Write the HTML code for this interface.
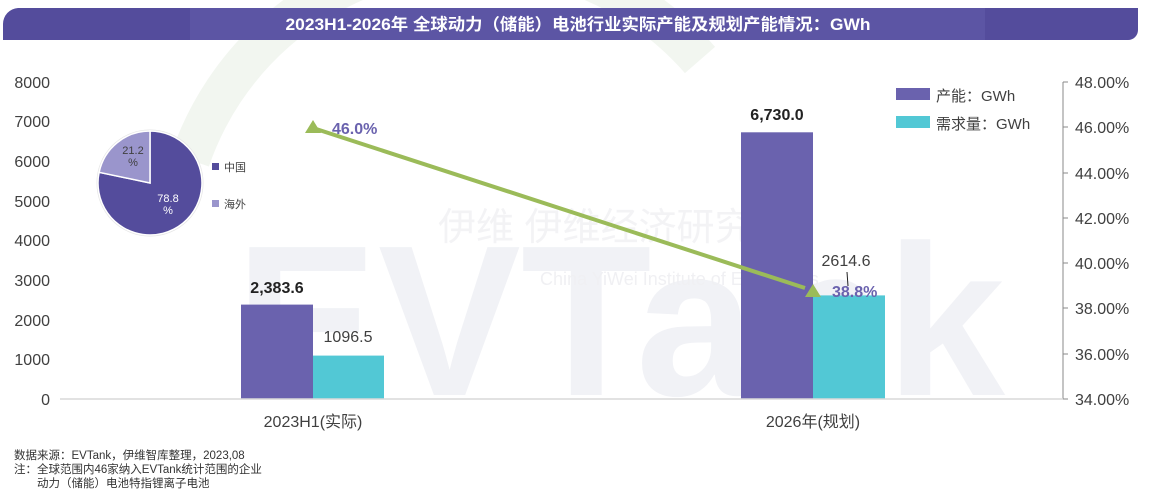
<!DOCTYPE html>
<html><head><meta charset="utf-8"><style>
body{margin:0;background:#fff;}
svg text{font-family:"Liberation Sans","Noto Sans CJK SC",sans-serif;}
</style></head><body>
<svg width="1156" height="498" xmlns="http://www.w3.org/2000/svg">
<rect width="1156" height="498" fill="#fff"/>
<path d="M190 160 A300 300 0 0 1 700 60" stroke="#f2f6f0" stroke-width="40" fill="none"/>
<text x="235" y="395" font-size="215" fill="#f1f2f6" font-weight="bold" textLength="770" lengthAdjust="spacingAndGlyphs">EVTank</text>
<text x="438" y="240" font-size="38" fill="#eeeef2" font-family="Noto Serif CJK SC,serif" opacity="0.7">伊维 伊维经济研究院</text>
<text x="540" y="285" font-size="18" fill="#f0f0f3" font-family="Liberation Serif,serif">China YiWei Institute of Economics</text>
<path d="M18 8 H1138 V30 A10 10 0 0 1 1128 40 H3 V24 A16 16 0 0 1 18 8 Z" fill="#544c9c"/>
<rect x="190" y="8" width="795" height="32" fill="#5e57a6" opacity="0.8"/>
<text x="578" y="30" font-size="16.5" font-weight="bold" fill="#fff" text-anchor="middle" textLength="585" lengthAdjust="spacingAndGlyphs">2023H1-2026年 全球动力（储能）电池行业实际产能及规划产能情况：GWh</text>
<g font-size="16" fill="#404040" text-anchor="end">
<text x="50" y="405">0</text><text x="50" y="365">1000</text><text x="50" y="326">2000</text><text x="50" y="286">3000</text><text x="50" y="246">4000</text><text x="50" y="207">5000</text><text x="50" y="167">6000</text><text x="50" y="127">7000</text><text x="50" y="88">8000</text>
</g>
<line x1="1063" y1="82" x2="1063" y2="399" stroke="#888" stroke-width="1"/>
<g stroke="#888">
<line x1="1063" y1="82" x2="1068" y2="82"/><line x1="1063" y1="127" x2="1068" y2="127"/><line x1="1063" y1="173" x2="1068" y2="173"/><line x1="1063" y1="218" x2="1068" y2="218"/><line x1="1063" y1="263" x2="1068" y2="263"/><line x1="1063" y1="308" x2="1068" y2="308"/><line x1="1063" y1="354" x2="1068" y2="354"/><line x1="1063" y1="399" x2="1068" y2="399"/>
</g>
<g font-size="16" fill="#404040">
<text x="1075" y="88">48.00%</text><text x="1075" y="133">46.00%</text><text x="1075" y="179">44.00%</text><text x="1075" y="224">42.00%</text><text x="1075" y="269">40.00%</text><text x="1075" y="314">38.00%</text><text x="1075" y="360">36.00%</text><text x="1075" y="405">34.00%</text>
</g>
<rect x="241" y="304.6" width="72" height="94.4" fill="#6a62ae"/>
<rect x="313" y="355.6" width="71" height="43.4" fill="#52c8d5"/>
<rect x="741" y="132.3" width="72" height="266.7" fill="#6a62ae"/>
<rect x="813" y="295.4" width="72" height="103.6" fill="#52c8d5"/>
<line x1="60" y1="399" x2="1063" y2="399" stroke="#d9d9d9" stroke-width="1.5"/>
<text x="277" y="293" font-size="16" font-weight="bold" fill="#222" text-anchor="middle">2,383.6</text>
<text x="348" y="342" font-size="16" fill="#404040" text-anchor="middle">1096.5</text>
<text x="777" y="120" font-size="16" font-weight="bold" fill="#222" text-anchor="middle">6,730.0</text>
<text x="846" y="266" font-size="16" fill="#404040" text-anchor="middle">2614.6</text>
<line x1="847" y1="272" x2="848" y2="286" stroke="#222" stroke-width="1"/>
<line x1="313" y1="128" x2="805" y2="288" stroke="#9bbb59" stroke-width="4"/>
<polygon points="313,120 305,133 321,133" fill="#9bbb59"/>
<polygon points="813,284 805,297 821,297" fill="#9bbb59"/>
<text x="332" y="134" font-size="16" font-weight="bold" fill="#6a62ae">46.0%</text>
<text x="832" y="297" font-size="16" font-weight="bold" fill="#6a62ae">38.8%</text>
<text x="313" y="427" font-size="16" fill="#404040" text-anchor="middle">2023H1(实际)</text>
<text x="813" y="427" font-size="16" fill="#404040" text-anchor="middle">2026年(规划)</text>
<rect x="896" y="88" width="34" height="12" fill="#6a62ae"/>
<text x="936" y="101" font-size="15" fill="#404040">产能：GWh</text>
<rect x="896" y="116" width="34" height="12" fill="#52c8d5"/>
<text x="936" y="129" font-size="15" fill="#404040">需求量：GWh</text>
<g transform="translate(150,183)">
<circle r="53" fill="#fff" stroke="#e6e6e6"/>
<path d="M0 0 L0 -52 A52 52 0 1 1 -50.9 -10.7 Z" fill="#544c9c" stroke="#fff" stroke-width="1.5"/>
<path d="M0 0 L-50.9 -10.7 A52 52 0 0 1 0 -52 Z" fill="#9a95cc" stroke="#fff" stroke-width="1.5"/>
<text x="-17" y="-29" font-size="11" fill="#404040" text-anchor="middle">21.2</text>
<text x="-17" y="-17" font-size="11" fill="#404040" text-anchor="middle">%</text>
<text x="18" y="19" font-size="11" fill="#fff" text-anchor="middle">78.8</text>
<text x="18" y="31" font-size="11" fill="#fff" text-anchor="middle">%</text>
</g>
<rect x="212" y="163" width="7" height="7" fill="#544c9c"/>
<text x="224" y="171" font-size="11" fill="#404040">中国</text>
<rect x="212" y="200" width="7" height="7" fill="#9a95cc"/>
<text x="224" y="208" font-size="11" fill="#404040">海外</text>
<g font-size="11.5" fill="#333">
<text x="14" y="459">数据来源：EVTank，伊维智库整理，2023,08</text>
<text x="14" y="473">注：全球范围内46家纳入EVTank统计范围的企业</text>
<text x="37" y="487">动力（储能）电池特指锂离子电池</text>
</g>
</svg>
</body></html>
